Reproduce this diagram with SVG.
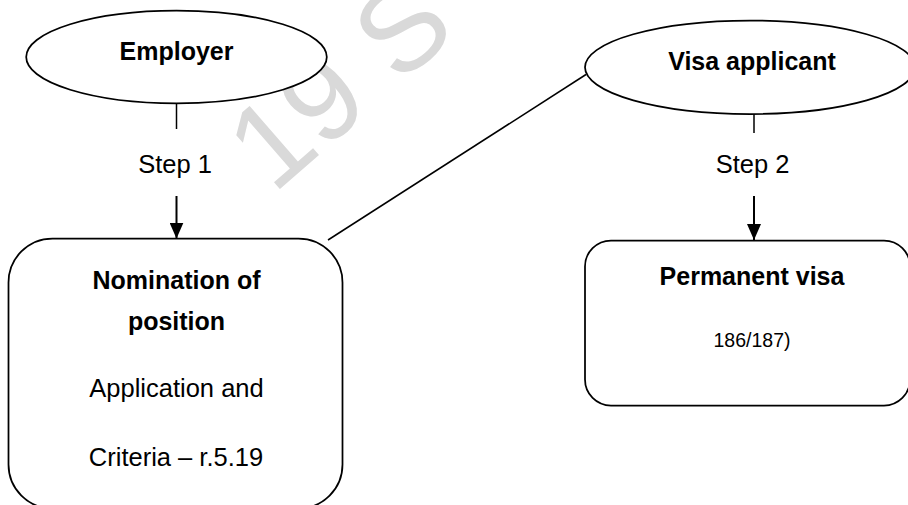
<svg xmlns="http://www.w3.org/2000/svg" width="908" height="505" viewBox="0 0 908 505">
  <style>
    .shape { fill: #ffffff; stroke: #000000; stroke-width: 1.75; }
    .conn { stroke: #000000; stroke-width: 1.5; fill: none; }
    .arrow { stroke: #000000; stroke-width: 2; fill: none; }
    .b { font-family: "Liberation Sans", Arial, sans-serif; font-weight: bold; font-size: 25px; fill: #000000; text-anchor: middle; }
    .r { font-family: "Liberation Sans", Arial, sans-serif; font-size: 25.5px; fill: #000000; text-anchor: middle; }
    .s { font-family: "Liberation Sans", Arial, sans-serif; font-size: 19.5px; fill: #000000; text-anchor: middle; }
    .wm { font-family: "Liberation Sans", Arial, sans-serif; font-size: 120px; fill: #d9d9d9; }
  </style>
  <defs>
    <marker id="ah" viewBox="0 0 16 14" refX="16" refY="7" markerWidth="16" markerHeight="14" markerUnits="userSpaceOnUse" orient="auto">
      <path d="M0,0 L16,7 L0,14 z" fill="#000000"/>
    </marker>
  </defs>
  <rect width="908" height="505" fill="#ffffff"/>
  <g id="watermark">
    <text class="wm" transform="translate(273,195) rotate(-41)">19 S</text>
  </g>
  <g id="connectors">
    <line class="conn" x1="176.5" y1="103.5" x2="176.5" y2="129"/>
    <line class="arrow" x1="176.5" y1="196" x2="176.5" y2="238.5" marker-end="url(#ah)"/>
    <line class="conn" x1="754" y1="114" x2="754" y2="133"/>
    <line class="arrow" x1="754" y1="196" x2="754" y2="240" marker-end="url(#ah)"/>
    <line class="conn" x1="586" y1="74.5" x2="328" y2="240"/>
    <text class="r" x="175" y="173">Step 1</text>
    <text class="r" x="752.5" y="173">Step 2</text>
  </g>
  <g id="employer">
    <ellipse class="shape" cx="176.5" cy="57" rx="150.3" ry="46.3"/>
    <text class="b" x="176.5" y="60">Employer</text>
  </g>
  <g id="visa-applicant">
    <ellipse class="shape" cx="750" cy="67.3" rx="165" ry="46.7"/>
    <text class="b" x="752" y="70">Visa applicant</text>
  </g>
  <g id="nomination">
    <rect class="shape" x="8.5" y="238.5" width="334" height="270" rx="44" ry="44"/>
    <text class="b" x="176.5" y="289.3">Nomination of</text>
    <text class="b" x="176.5" y="330">position</text>
    <text class="r" x="176.5" y="396.7">Application and</text>
    <text class="r" x="176" y="466">Criteria – r.5.19</text>
  </g>
  <g id="permanent-visa">
    <rect class="shape" x="585" y="240.5" width="325" height="165" rx="26" ry="26"/>
    <text class="b" x="752" y="285">Permanent visa</text>
    <text class="s" x="752" y="347">186/187)</text>
  </g>
</svg>
